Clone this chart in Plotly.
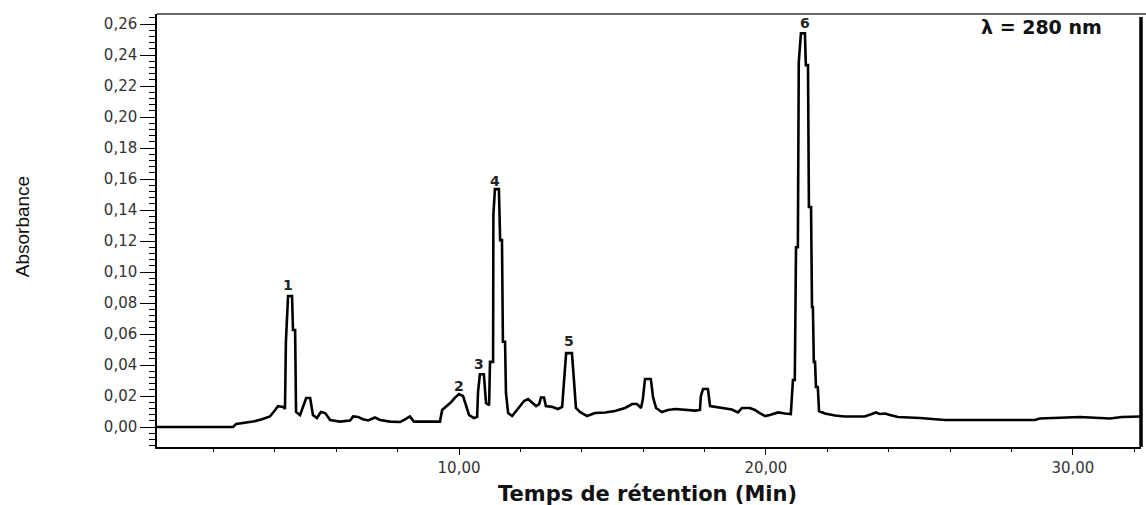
import plotly.graph_objects as go

# Retention time (min) and absorbance
time_min = [0.16, 2.64, 2.74, 3.03, 3.29, 3.58, 3.84, 4.01, 4.10, 4.27, 4.33, 4.36, 4.43, 4.56, 4.59, 4.66,
            4.69, 4.82, 4.92, 5.02, 5.15, 5.24, 5.37, 5.50, 5.64, 5.80, 6.12, 6.45, 6.55, 6.71, 6.87, 7.04,
            7.26, 7.43, 7.75, 8.08, 8.24, 8.40, 8.53, 9.38, 9.45, 9.61, 9.74, 9.87, 10.00, 10.13, 10.23,
            10.33, 10.49, 10.59, 10.62, 10.68, 10.81, 10.88, 10.98, 11.01, 11.11, 11.12, 11.17, 11.30,
            11.34, 11.40, 11.43, 11.50, 11.53, 11.60, 11.73, 11.86, 11.99, 12.12, 12.25, 12.38, 12.51,
            12.61, 12.67, 12.77, 12.83, 13.03, 13.22, 13.36, 13.42, 13.49, 13.68, 13.74, 13.81, 13.94,
            14.17, 14.43, 14.76, 15.08, 15.41, 15.64, 15.80, 15.93, 15.99, 16.06, 16.25, 16.32, 16.42,
            16.61, 16.81, 17.04, 17.36, 17.69, 17.85, 17.88, 17.95, 18.11, 18.18, 18.50, 18.89, 19.09,
            19.22, 19.48, 19.64, 19.80, 19.97, 20.13, 20.39, 20.62, 20.81, 20.88, 20.94, 20.98, 21.04,
            21.07, 21.14, 21.27, 21.30, 21.37, 21.40, 21.47, 21.50, 21.53, 21.56, 21.60, 21.63, 21.69,
            21.73, 21.92, 22.25, 22.57, 23.22, 23.45, 23.58, 23.71, 23.88, 24.04, 24.30, 25.02, 25.83,
            28.76, 28.92, 30.23, 31.21, 31.60, 32.22]
absorbance = [0.0, 0.0, 0.002, 0.0026, 0.0035, 0.005, 0.0068, 0.011, 0.0135, 0.013, 0.0116, 0.055, 0.0845,
              0.0845, 0.0626, 0.0626, 0.0097, 0.0077, 0.014, 0.0187, 0.0187, 0.0077, 0.0058, 0.0097, 0.009,
              0.0045, 0.0035, 0.0042, 0.0068, 0.0065, 0.005, 0.0042, 0.0061, 0.0045, 0.0035, 0.0032, 0.005,
              0.0068, 0.0035, 0.0035, 0.011, 0.0135, 0.016, 0.019, 0.0213, 0.020, 0.0135, 0.0077, 0.0058,
              0.0065, 0.0226, 0.034, 0.034, 0.0155, 0.014, 0.042, 0.042, 0.137, 0.1535, 0.1535, 0.1206,
              0.1206, 0.055, 0.055, 0.022, 0.009, 0.0071, 0.0103, 0.0135, 0.0168, 0.018, 0.0155, 0.0135,
              0.0148, 0.019, 0.019, 0.0135, 0.013, 0.0116, 0.013, 0.0303, 0.0477, 0.0477, 0.0303, 0.0123,
              0.0097, 0.0071, 0.009, 0.0094, 0.0103, 0.0123, 0.0148, 0.0148, 0.0123, 0.018, 0.031, 0.031,
              0.0194, 0.0123, 0.0097, 0.011, 0.0116, 0.0113, 0.0106, 0.011, 0.020, 0.0245, 0.0245, 0.0135,
              0.0123, 0.0113, 0.0094, 0.0123, 0.0123, 0.011, 0.009, 0.0071, 0.0077, 0.0094, 0.0087, 0.0084,
              0.0303, 0.0303, 0.116, 0.116, 0.2355, 0.254, 0.254, 0.2335, 0.2335, 0.142, 0.142, 0.0774,
              0.0774, 0.042, 0.042, 0.0258, 0.0258, 0.0103, 0.0087, 0.0074, 0.0068, 0.0068, 0.0084, 0.0094,
              0.0084, 0.0087, 0.0077, 0.0065, 0.0058, 0.0045, 0.0045, 0.0055, 0.0065, 0.0055, 0.0065, 0.0068]

# Peak labels
peak_labels = ["1", "2", "3", "4", "5", "6"]
peak_label_time = [4.43, 10.00, 10.65, 11.17, 13.58, 21.27]
peak_label_abs = [0.0916, 0.0265, 0.0406, 0.159, 0.0555, 0.2606]

# Axis ticks
y_tickvals = [0.00, 0.02, 0.04, 0.06, 0.08, 0.10, 0.12, 0.14, 0.16, 0.18, 0.20, 0.22, 0.24, 0.26]
y_ticktext = ["0,00", "0,02", "0,04", "0,06", "0,08", "0,10", "0,12", "0,14", "0,16", "0,18",
              "0,20", "0,22", "0,24", "0,26"]
x_tickvals = [10, 20, 30]
x_ticktext = ["10,00", "20,00", "30,00"]

fig = go.Figure()
fig.add_trace(go.Scatter(
    x=time_min, y=absorbance, mode="lines",
    line=dict(color="black", width=2.6),
    hoverinfo="x+y", showlegend=False,
))

for lab, t, a in zip(peak_labels, peak_label_time, peak_label_abs):
    fig.add_annotation(x=t, y=a, text="<b>" + lab + "</b>", showarrow=False,
                       font=dict(family="DejaVu Sans", size=14, color="#222"),
                       xanchor="center", yanchor="middle")

fig.add_annotation(xref="paper", yref="paper", x=0.899, y=0.970, text="<b>λ = 280 nm</b>",
                   showarrow=False, font=dict(family="DejaVu Sans", size=19, color="#111"),
                   xanchor="center", yanchor="middle")
fig.add_annotation(xref="paper", yref="paper", x=-0.137, y=0.508, text="Absorbance",
                   textangle=-90, showarrow=False,
                   font=dict(family="Liberation Sans Narrow, Liberation Sans", size=19, color="#111"),
                   xanchor="center", yanchor="middle")
fig.add_annotation(xref="paper", yref="paper", x=0.498, y=-0.1085, text="<b>Temps de rétention (Min)</b>",
                   showarrow=False, font=dict(family="DejaVu Sans", size=21, color="#111"),
                   xanchor="center", yanchor="middle")

# top border (extends to the right edge) and thick right border
fig.add_shape(type="line", xref="paper", yref="paper", x0=0, x1=1.006, y0=1, y1=1,
              line=dict(color="#333", width=1.5))
fig.add_shape(type="line", xref="paper", yref="paper", x0=1, x1=1, y0=0, y1=0.993,
              line=dict(color="black", width=3.5))

fig.update_layout(
    width=1146, height=505,
    margin=dict(l=157, r=5, t=14, b=58),
    plot_bgcolor="white", paper_bgcolor="white",
    showlegend=False,
    xaxis=dict(
        range=[0.16, 32.22], showgrid=False, zeroline=False,
        showline=True, linecolor="black", linewidth=1.5,
        tickmode="array", tickvals=x_tickvals, ticktext=x_ticktext,
        ticks="outside", ticklen=6, tickwidth=1.2, tickcolor="black",
        tickfont=dict(family="DejaVu Sans", size=15, color="#333"),
        minor=dict(dtick=2, tick0=0, ticks="outside", ticklen=3, tickwidth=1.2, tickcolor="black"),
    ),
    yaxis=dict(
        range=[-0.0129, 0.2665], showgrid=False, zeroline=False,
        showline=True, linecolor="black", linewidth=1.5,
        tickmode="array", tickvals=y_tickvals, ticktext=y_ticktext,
        ticks="outside", ticklen=15, tickwidth=1.2, tickcolor="black",
        tickfont=dict(family="DejaVu Sans", size=15, color="#333"),
        minor=dict(dtick=0.004, tick0=0, ticks="outside", ticklen=6, tickwidth=1, tickcolor="black"),
    ),
)

fig.write_html("out.html", config={"displayModeBar": False},
               post_script="document.body.style.margin='0';document.body.style.overflow='hidden';")
